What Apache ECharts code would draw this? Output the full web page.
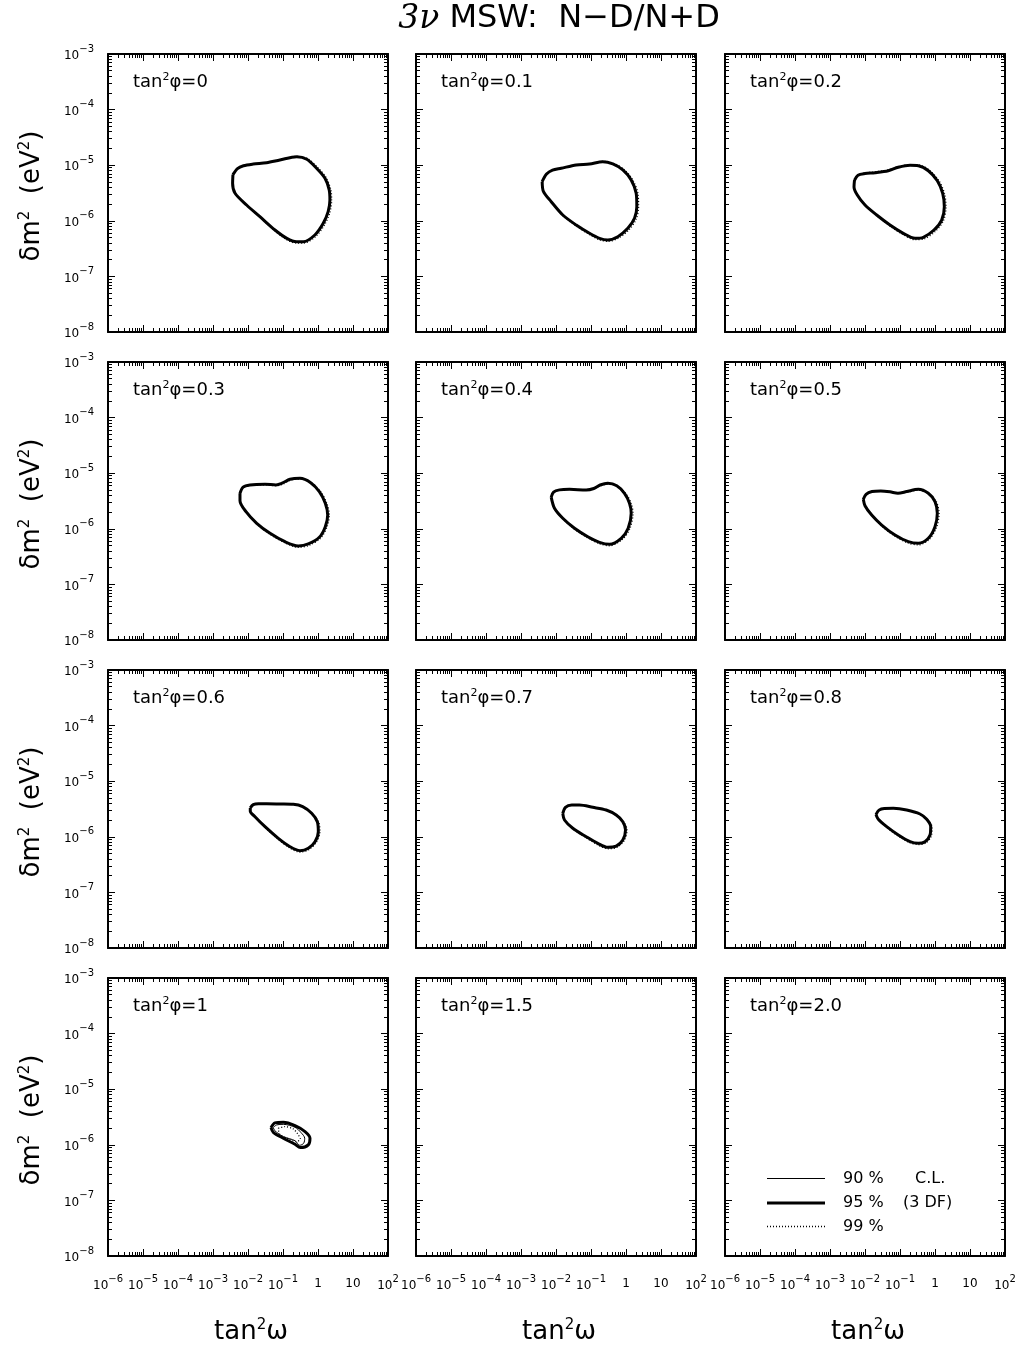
<!DOCTYPE html>
<html>
<head>
<meta charset="utf-8">
<script src="https://cdn.jsdelivr.net/npm/echarts@6/dist/echarts.min.js"></script>
<style>
html, body { margin: 0; padding: 0; background: #fff; }
#main { width: 1023px; height: 1347px; }
</style>
</head>
<body>
<div id="main"></div>
<script>
// tan^2(phi) value of each panel (row by row)
var phiValues = ['0', '0.1', '0.2', '0.3', '0.4', '0.5', '0.6', '0.7', '0.8', '1', '1.5', '2.0'];

// contour points: [log10(tan^2 w), log10(dm^2 / eV^2)]
var cl95 = [
  [[-2.43,-5.17],[-2.3,-5.06],[-2.13,-5.01],[-1.85,-4.98],[-1.47,-4.955],[-1.09,-4.906],[-0.61,-4.847],[-0.32,-4.894],[-0.04,-5.056],[0.2,-5.236],[0.32,-5.446],[0.34,-5.626],[0.29,-5.836],[0.15,-6.045],[-0.09,-6.255],[-0.42,-6.376],[-0.61,-6.376],[-0.89,-6.315],[-1.23,-6.165],[-1.66,-5.926],[-2.04,-5.716],[-2.37,-5.505],[-2.44,-5.326]],
  [[-2.395,-5.296],[-2.27,-5.16],[-2.1,-5.09],[-1.851,-5.056],[-1.423,-4.996],[-1.043,-4.978],[-0.663,-4.937],[-0.377,-4.978],[-0.091,-5.086],[0.148,-5.266],[0.291,-5.506],[0.309,-5.746],[0.243,-5.955],[0.052,-6.135],[-0.234,-6.286],[-0.52,-6.345],[-0.757,-6.315],[-1.043,-6.225],[-1.423,-6.076],[-1.806,-5.896],[-2.137,-5.656],[-2.357,-5.476]],
  [[-2.3,-5.27],[-2.2,-5.18],[-2.0,-5.15],[-1.714,-5.134],[-1.334,-5.099],[-1.048,-5.038],[-0.714,-5.002],[-0.477,-5.009],[-0.191,-5.099],[0.066,-5.279],[0.22,-5.506],[0.266,-5.746],[0.191,-5.986],[-0.029,-6.166],[-0.334,-6.297],[-0.571,-6.315],[-0.906,-6.225],[-1.286,-6.076],[-1.666,-5.896],[-2.0,-5.716],[-2.22,-5.536],[-2.314,-5.39]],
  [[-2.229,-5.36],[-2.14,-5.25],[-1.943,-5.212],[-1.514,-5.2],[-1.2,-5.21],[-1.03,-5.18],[-0.8,-5.11],[-0.514,-5.092],[-0.209,-5.171],[0.038,-5.332],[0.209,-5.541],[0.277,-5.752],[0.209,-5.962],[0.038,-6.153],[-0.277,-6.273],[-0.563,-6.309],[-0.943,-6.232],[-1.371,-6.081],[-1.751,-5.901],[-2.057,-5.692],[-2.229,-5.494]],
  [[-2.137,-5.43],[-2.07,-5.34],[-1.9,-5.3],[-1.614,-5.29],[-1.137,-5.302],[-0.92,-5.275],[-0.737,-5.212],[-0.52,-5.182],[-0.263,-5.225],[-0.043,-5.362],[0.1,-5.541],[0.148,-5.722],[0.062,-5.991],[-0.137,-6.171],[-0.471,-6.279],[-0.757,-6.243],[-1.091,-6.142],[-1.471,-5.991],[-1.806,-5.811],[-2.043,-5.631]],
  [[-2.048,-5.47],[-1.97,-5.38],[-1.8,-5.33],[-1.55,-5.32],[-1.286,-5.335],[-1.06,-5.36],[-0.809,-5.33],[-0.477,-5.29],[-0.191,-5.362],[0.0,-5.512],[0.066,-5.722],[0.0,-5.962],[-0.191,-6.171],[-0.477,-6.261],[-0.763,-6.232],[-1.143,-6.112],[-1.523,-5.932],[-1.809,-5.752],[-2.0,-5.584]],
  [[-1.935,-5.48],[-1.85,-5.42],[-1.7,-5.405],[-1.466,-5.405],[-1.086,-5.41],[-0.705,-5.416],[-0.438,-5.458],[-0.181,-5.577],[-0.02,-5.728],[0.009,-5.908],[-0.086,-6.088],[-0.277,-6.207],[-0.514,-6.25],[-0.8,-6.178],[-1.134,-6.027],[-1.514,-5.818],[-1.8,-5.638],[-1.935,-5.54]],
  [[-1.806,-5.58],[-1.73,-5.47],[-1.55,-5.43],[-1.329,-5.43],[-0.948,-5.47],[-0.566,-5.518],[-0.28,-5.608],[-0.091,-5.728],[-0.014,-5.878],[-0.091,-6.058],[-0.28,-6.166],[-0.52,-6.189],[-0.806,-6.117],[-1.137,-5.998],[-1.52,-5.847],[-1.757,-5.698]],
  [[-1.686,-5.6],[-1.6,-5.52],[-1.45,-5.49],[-1.191,-5.488],[-0.809,-5.518],[-0.429,-5.59],[-0.237,-5.686],[-0.123,-5.818],[-0.143,-5.968],[-0.286,-6.088],[-0.477,-6.117],[-0.714,-6.088],[-1.048,-5.968],[-1.38,-5.818],[-1.62,-5.686]],
  [[-1.343,-5.691],[-1.229,-5.606],[-0.991,-5.594],[-0.657,-5.654],[-0.371,-5.762],[-0.229,-5.882],[-0.277,-6.0],[-0.506,-6.05],[-0.657,-5.99],[-0.991,-5.882],[-1.277,-5.775]],
  null,
  null
];

var cl99 = [
  [[-2.43,-5.17],[-2.3,-5.06],[-2.13,-5.01],[-1.85,-4.98],[-1.47,-4.955],[-1.09,-4.906],[-0.61,-4.84],[-0.30,-4.88],[-0.01,-5.04],[0.24,-5.23],[0.37,-5.45],[0.39,-5.63],[0.34,-5.85],[0.19,-6.07],[-0.06,-6.28],[-0.40,-6.40],[-0.61,-6.40],[-0.90,-6.34],[-1.23,-6.18],[-1.66,-5.93],[-2.04,-5.72],[-2.37,-5.505],[-2.44,-5.326]],
  [[-2.395,-5.296],[-2.27,-5.16],[-2.1,-5.09],[-1.851,-5.056],[-1.423,-4.996],[-1.043,-4.978],[-0.663,-4.93],[-0.36,-4.965],[-0.06,-5.075],[0.19,-5.26],[0.34,-5.505],[0.36,-5.75],[0.29,-5.97],[0.09,-6.16],[-0.21,-6.31],[-0.52,-6.37],[-0.77,-6.34],[-1.05,-6.245],[-1.43,-6.09],[-1.806,-5.905],[-2.137,-5.656],[-2.357,-5.476]],
  [[-2.3,-5.27],[-2.2,-5.17],[-2.0,-5.14],[-1.714,-5.12],[-1.334,-5.085],[-1.048,-5.025],[-0.714,-4.99],[-0.46,-4.995],[-0.16,-5.09],[0.11,-5.275],[0.27,-5.505],[0.315,-5.75],[0.24,-6.0],[0.01,-6.19],[-0.31,-6.325],[-0.571,-6.34],[-0.92,-6.245],[-1.30,-6.09],[-1.666,-5.9],[-2.0,-5.716],[-2.22,-5.536],[-2.314,-5.39]],
  [[-2.229,-5.36],[-2.14,-5.25],[-1.943,-5.22],[-1.514,-5.21],[-1.18,-5.225],[-1.0,-5.195],[-0.79,-5.125],[-0.5,-5.105],[-0.18,-5.175],[0.08,-5.335],[0.255,-5.545],[0.325,-5.755],[0.255,-5.97],[0.075,-6.17],[-0.26,-6.3],[-0.57,-6.335],[-0.95,-6.25],[-1.38,-6.095],[-1.751,-5.91],[-2.057,-5.692],[-2.229,-5.494]],
  [[-2.137,-5.43],[-2.07,-5.34],[-1.9,-5.3],[-1.614,-5.29],[-1.137,-5.302],[-0.92,-5.275],[-0.72,-5.225],[-0.5,-5.195],[-0.23,-5.24],[0.0,-5.37],[0.15,-5.545],[0.2,-5.725],[0.11,-6.0],[-0.11,-6.195],[-0.47,-6.305],[-0.77,-6.265],[-1.10,-6.16],[-1.48,-6.005],[-1.806,-5.815],[-2.043,-5.631]],
  [[-2.048,-5.47],[-1.97,-5.38],[-1.8,-5.33],[-1.55,-5.32],[-1.286,-5.335],[-1.06,-5.36],[-0.79,-5.34],[-0.46,-5.305],[-0.16,-5.375],[0.045,-5.52],[0.115,-5.725],[0.045,-5.975],[-0.17,-6.195],[-0.477,-6.29],[-0.775,-6.255],[-1.15,-6.13],[-1.53,-5.945],[-1.809,-5.755],[-2.0,-5.584]],
  [[-1.935,-5.48],[-1.85,-5.42],[-1.7,-5.405],[-1.466,-5.405],[-1.086,-5.41],[-0.705,-5.416],[-0.43,-5.47],[-0.16,-5.59],[0.02,-5.735],[0.055,-5.91],[-0.05,-6.1],[-0.26,-6.23],[-0.514,-6.275],[-0.81,-6.2],[-1.14,-6.045],[-1.52,-5.83],[-1.8,-5.645],[-1.935,-5.54]],
  [[-1.806,-5.58],[-1.73,-5.47],[-1.55,-5.43],[-1.329,-5.43],[-0.948,-5.47],[-0.566,-5.518],[-0.26,-5.615],[-0.06,-5.735],[0.03,-5.88],[-0.055,-6.07],[-0.26,-6.19],[-0.52,-6.215],[-0.82,-6.14],[-1.145,-6.015],[-1.525,-5.855],[-1.757,-5.698]],
  [[-1.686,-5.6],[-1.6,-5.52],[-1.45,-5.49],[-1.191,-5.488],[-0.809,-5.518],[-0.42,-5.6],[-0.215,-5.695],[-0.085,-5.82],[-0.1,-5.98],[-0.26,-6.11],[-0.477,-6.14],[-0.72,-6.105],[-1.055,-5.985],[-1.385,-5.83],[-1.62,-5.69]],
  [[-1.134,-5.703],[-0.943,-5.673],[-0.705,-5.715],[-0.58,-5.805],[-0.506,-5.895],[-0.62,-5.943],[-0.837,-5.895],[-1.094,-5.811]],
  null,
  null
];

// the 90% line only shows apart from the 95% one in the tan^2(phi)=1 panel
var cl90 = [null, null, null, null, null, null, null, null, null,
  [[-1.277,-5.691],[-1.18,-5.642],[-0.991,-5.632],[-0.657,-5.685],[-0.486,-5.78],[-0.38,-5.882],[-0.409,-5.972],[-0.523,-6.009],[-0.657,-5.926],[-0.991,-5.852],[-1.229,-5.75]],
  null, null];

var xRange = [1e-6, 1e2];
var yRange = [1e-8, 1e-3];
var legendPct = ['90 %', '95 %', '99 %'];
var legendNote = ['C.L.', '(3 DF)', ''];

var gridLeft = [108, 416, 725];
var gridTop = [54, 362, 670, 978];
var gridW = 280, gridH = 278;
var FONT = '"DejaVu Sans", sans-serif';

function supLabel(v) {
  var e = Math.round(Math.log(v) / Math.LN10);
  if (e === 0) return '{b|1}';
  if (e === 1) return '{b|10}';
  return '{b|10}{s|' + (e < 0 ? '\u2212' + (-e) : e) + '}';
}
var tickRich = {
  b: { fontSize: 12, fontFamily: FONT, color: '#000', padding: [4, 0, 0, 0] },
  s: { fontSize: 10, fontFamily: FONT, color: '#000', padding: [0, 0, 10, 0] }
};

function toVal(p) {
  return [Math.pow(10, p[0]), Math.pow(10, p[1])];
}
function closed(pts) {
  var d = pts.map(toVal);
  d.push(d[0]);
  return d;
}

function makeAxis(dim, idx, pos, showLabel) {
  var r = dim === 'x' ? xRange : yRange;
  return {
    type: 'log',
    logBase: 10,
    gridIndex: idx,
    position: pos,
    min: r[0],
    max: r[1],
    interval: 1,
    axisLine: { show: true, onZero: false, lineStyle: { color: '#000', width: 2 } },
    axisTick: { show: true, inside: true, length: 7, lineStyle: { color: '#000', width: 1 } },
    minorTick: { show: true, splitNumber: 9, length: 4, lineStyle: { color: '#000', width: 1 } },
    splitLine: { show: false },
    minorSplitLine: { show: false },
    axisLabel: {
      show: showLabel,
      margin: dim === 'x' ? 18 : 14,
      showMinLabel: true,
      showMaxLabel: true,
      formatter: supLabel,
      rich: tickRich
    }
  };
}

var grids = [], xAxes = [], yAxes = [], series = [], graphics = [];
for (var i = 0; i < 12; i++) {
  var r = Math.floor(i / 3), c = i % 3;
  grids.push({ left: gridLeft[c], top: gridTop[r], width: gridW, height: gridH, containLabel: false });
  xAxes.push(makeAxis('x', i, 'bottom', r === 3));
  xAxes.push(makeAxis('x', i, 'top', false));
  yAxes.push(makeAxis('y', i, 'left', c === 0));
  yAxes.push(makeAxis('y', i, 'right', false));

  if (cl99[i]) {
    series.push({
      type: 'line', xAxisIndex: 2 * i, yAxisIndex: 2 * i, data: closed(cl99[i]),
      symbol: 'none', smooth: 0.3, silent: true, z: 2,
      lineStyle: { color: '#000', width: 1.3, type: [1, 2] }
    });
  }
  if (cl90[i]) {
    series.push({
      type: 'line', xAxisIndex: 2 * i, yAxisIndex: 2 * i, data: closed(cl90[i]),
      symbol: 'none', smooth: 0.3, silent: true, z: 3,
      lineStyle: { color: '#000', width: 1 }
    });
  }
  if (cl95[i]) {
    series.push({
      type: 'line', xAxisIndex: 2 * i, yAxisIndex: 2 * i, data: closed(cl95[i]),
      symbol: 'none', smooth: 0.3, silent: true, z: 4,
      lineStyle: { color: '#000', width: 3, join: 'round' }
    });
  }

  // panel label
  graphics.push({
    type: 'text', x: gridLeft[c] + 25, y: gridTop[r] + 28, silent: true,
    style: {
      text: 'tan{s|2}\u03c6=' + phiValues[i],
      fill: '#000', fontSize: 18, fontFamily: FONT,
      align: 'left', verticalAlign: 'middle',
      rich: { s: { fontSize: 11, fontFamily: FONT, fill: '#000', padding: [0, 0, 10, 0] } }
    }
  });
}

// y titles, one per row
for (var r2 = 0; r2 < 4; r2++) {
  graphics.push({
    type: 'text', x: 32, y: gridTop[r2] + gridH / 2 + 3, rotation: Math.PI / 2, silent: true,
    style: {
      text: '\u03b4m{s|2}  (eV{s|2})',
      fill: '#000', fontSize: 26, fontFamily: FONT,
      align: 'center', verticalAlign: 'middle',
      rich: { s: { fontSize: 15, fontFamily: FONT, fill: '#000', padding: [0, 0, 13, 0] } }
    }
  });
}
// x titles, one per column
for (var c2 = 0; c2 < 3; c2++) {
  graphics.push({
    type: 'text', x: gridLeft[c2] + gridW / 2 + 3, y: 1332, silent: true,
    style: {
      text: 'tan{s|2}\u03c9',
      fill: '#000', fontSize: 26, fontFamily: FONT,
      align: 'center', verticalAlign: 'middle',
      rich: { s: { fontSize: 15, fontFamily: FONT, fill: '#000', padding: [0, 0, 13, 0] } }
    }
  });
}
// title
graphics.push({
  type: 'text', x: 559, y: 19, silent: true,
  style: {
    text: '{it|3\u03bd} MSW:  N\u2212D/N+D',
    fill: '#000', fontSize: 32, fontFamily: FONT,
    align: 'center', verticalAlign: 'middle',
    rich: { it: { fontSize: 33, fontFamily: '"DejaVu Serif", serif', fontStyle: 'italic', fill: '#000' } }
  }
});
// legend in the last panel
var legY = [1178.5, 1203, 1226.5];
var legW = [1, 3, 1.3];
for (var k = 0; k < 3; k++) {
  graphics.push({
    type: 'line', silent: true,
    shape: { x1: 767, y1: legY[k], x2: 825, y2: legY[k] },
    style: { stroke: '#000', lineWidth: legW[k], lineDash: k === 2 ? [1, 2] : null }
  });
  graphics.push({
    type: 'text', x: 843, y: legY[k], silent: true,
    style: { text: legendPct[k], fill: '#000', fontSize: 16, fontFamily: FONT, align: 'left', verticalAlign: 'middle' }
  });
  if (legendNote[k]) {
    graphics.push({
      type: 'text', x: k === 0 ? 915 : 903, y: legY[k], silent: true,
      style: { text: legendNote[k], fill: '#000', fontSize: 16, fontFamily: FONT, align: 'left', verticalAlign: 'middle' }
    });
  }
}

var chart = echarts.init(document.getElementById('main'), null, { renderer: 'canvas' });
chart.setOption({
  animation: false,
  backgroundColor: '#fff',
  grid: grids,
  xAxis: xAxes,
  yAxis: yAxes,
  series: series,
  graphic: graphics
});
</script>
</body>
</html>
